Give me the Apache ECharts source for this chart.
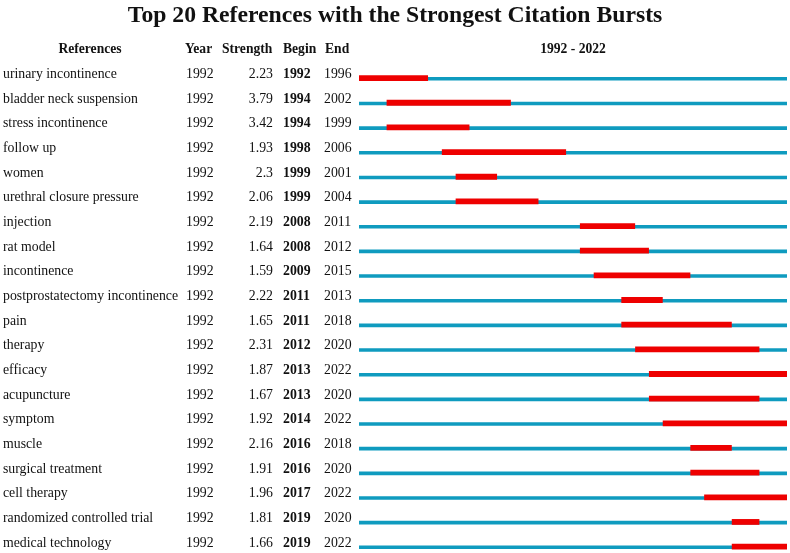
<!DOCTYPE html>
<html>
<head>
<meta charset="utf-8">
<style>
  html, body { margin: 0; padding: 0; background: #fff; }
  #chart { width: 790px; height: 553px; }
</style>
<script src="https://cdn.jsdelivr.net/npm/echarts@6/dist/echarts.min.js"></script>
</head>
<body>
<div id="chart"></div>
<script>
// 关键词突现表
const references = [
  'urinary incontinence', 'bladder neck suspension', 'stress incontinence', 'follow up',
  'women', 'urethral closure pressure', 'injection', 'rat model', 'incontinence',
  'postprostatectomy incontinence', 'pain', 'therapy', 'efficacy', 'acupuncture',
  'symptom', 'muscle', 'surgical treatment', 'cell therapy',
  'randomized controlled trial', 'medical technology'
];
const years = [1992, 1992, 1992, 1992, 1992, 1992, 1992, 1992, 1992, 1992,
               1992, 1992, 1992, 1992, 1992, 1992, 1992, 1992, 1992, 1992];
const strengths = [2.23, 3.79, 3.42, 1.93, 2.3, 2.06, 2.19, 1.64, 1.59, 2.22,
                   1.65, 2.31, 1.87, 1.67, 1.92, 2.16, 1.91, 1.96, 1.81, 1.66];
const begins = [1992, 1994, 1994, 1998, 1999, 1999, 2008, 2008, 2009, 2011,
                2011, 2012, 2013, 2013, 2014, 2016, 2016, 2017, 2019, 2019];
const ends = [1996, 2002, 1999, 2006, 2001, 2004, 2011, 2012, 2015, 2013,
              2018, 2020, 2022, 2020, 2022, 2018, 2020, 2022, 2020, 2022];
const startYear = 1992;
const endYear = 2022;

const SERIF = '"Liberation Serif", "Times New Roman", serif';
const BLUE = '#0f9bbf';
const RED = '#ee0000';
const TXT = '#111';

const rows = references.map((name, i) => [i, startYear, endYear + 1, begins[i], ends[i] + 1]);

const chart = echarts.init(document.getElementById('chart'));

function textEl(x, y, str, align, bold, size) {
  return {
    type: 'text',
    x: x, y: y,
    style: {
      text: str,
      fill: TXT,
      font: (bold ? 'bold ' : '') + (size || 13.8) + 'px ' + SERIF,
      align: align,
      verticalAlign: 'middle'
    }
  };
}

const option = {
  backgroundColor: '#fff',
  animation: false,
  title: {
    text: 'Top 20 References with the Strongest Citation Bursts',
    left: 'center',
    top: 4,
    padding: 0,
    textStyle: { fontFamily: SERIF, fontWeight: 'bold', fontSize: 23.7, color: TXT }
  },
  grid: { left: 359, right: 3, top: 53.34, bottom: 6.5 },
  xAxis: { type: 'value', min: startYear, max: endYear + 1, show: false },
  yAxis: { type: 'value', min: -1, max: 19, inverse: true, show: false },
  graphic: [
    textEl(90, 49, 'References', 'center', true, 13.6),
    textEl(185, 49, 'Year', 'left', true, 13.6),
    textEl(222, 49, 'Strength', 'left', true, 13.6),
    textEl(283, 49, 'Begin', 'left', true, 13.6),
    textEl(325, 49, 'End', 'left', true, 13.6),
    textEl(573, 49, startYear + ' - ' + endYear, 'center', true, 13.6)
  ].map(g => Object.assign(g, { silent: true })),
  series: [
    {
      // 时间轴：蓝线 + 红色突现段
      type: 'custom',
      clip: false,
      data: rows,
      renderItem: function (params, api) {
        const i = api.value(0);
        const a = api.coord([api.value(1), i]);
        const b = api.coord([api.value(2), i]);
        const s = api.coord([api.value(3), i]);
        const e = api.coord([api.value(4), i]);
        const y = a[1];
        return {
          type: 'group',
          children: [
            { type: 'rect', shape: { x: a[0], y: y - 1, width: b[0] - a[0], height: 3.6 }, style: { fill: BLUE } },
            { type: 'rect', shape: { x: s[0], y: y - 2.8, width: e[0] - s[0], height: 5.8 }, style: { fill: RED } }
          ]
        };
      }
    },
    {
      // 左侧表格文字
      type: 'custom',
      clip: false,
      data: rows,
      renderItem: function (params, api) {
        const i = api.value(0);
        const y = api.coord([startYear, i])[1] - 3.5;
        return {
          type: 'group',
          children: [
            textEl(3, y, references[i], 'left', false),
            textEl(186, y, String(years[i]), 'left', false),
            textEl(273, y, String(strengths[i]), 'right', false),
            textEl(283, y, String(begins[i]), 'left', true),
            textEl(324, y, String(ends[i]), 'left', false)
          ]
        };
      }
    }
  ]
};

chart.setOption(option);
window.addEventListener('resize', () => chart.resize());
</script>
</body>
</html>
